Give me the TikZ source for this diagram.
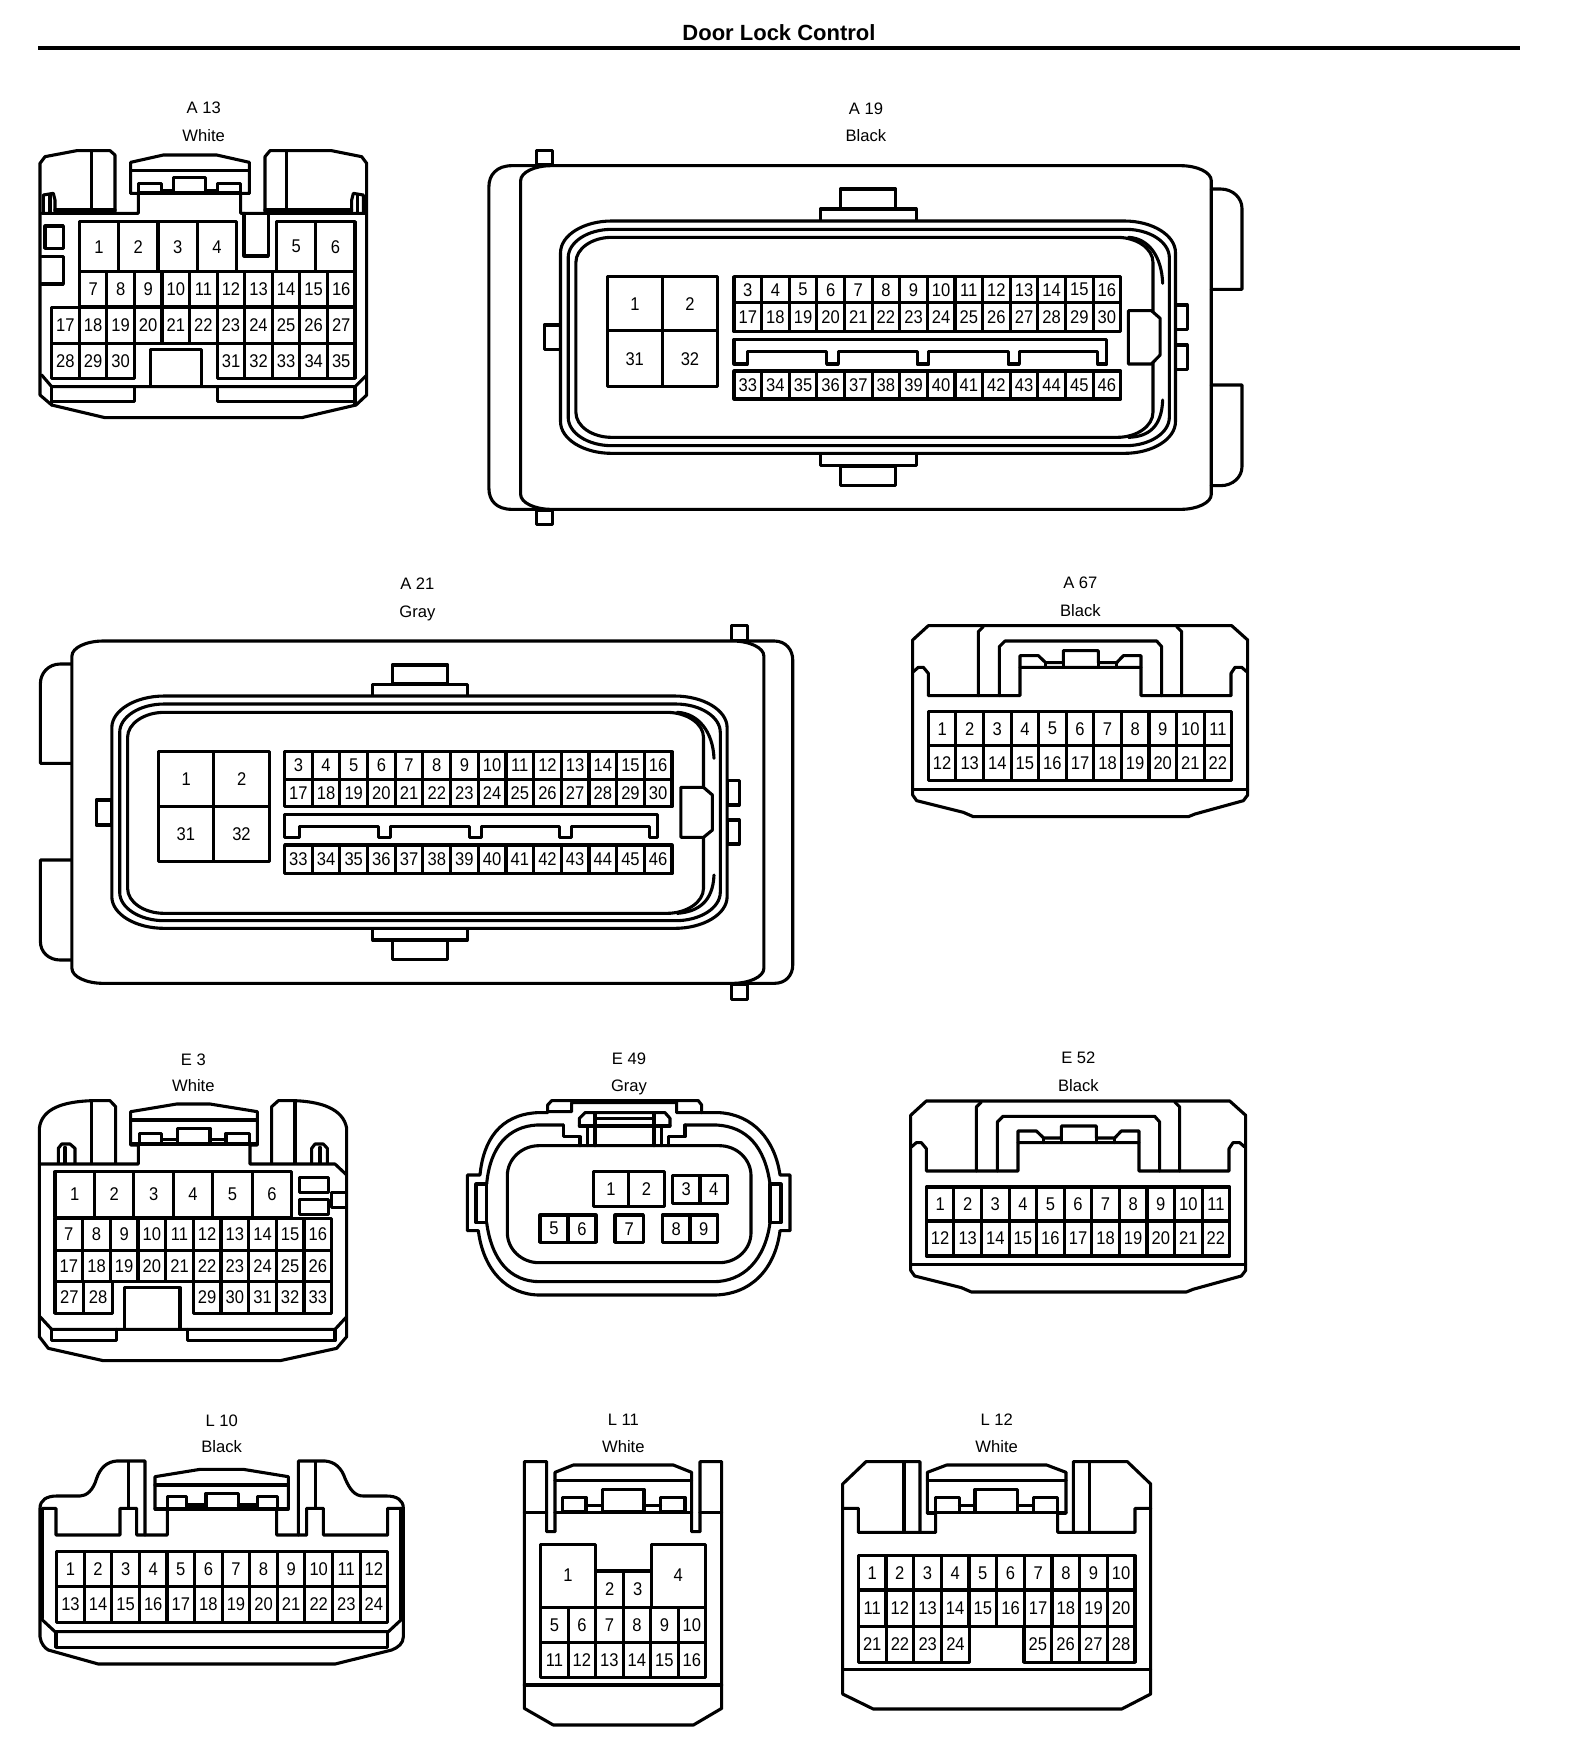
\documentclass[tikz,border=0pt]{standalone}
\usepackage{fontspec}
\setmainfont{Liberation Sans}
\newfontfamily\pinfont[FakeStretch=0.9]{Liberation Sans}
\tikzset{
  line/.style={line width=1.55pt,line join=round,line cap=round},
  pinnum/.style={inner sep=0pt,outer sep=0pt,font=\pinfont\fontsize{9.2pt}{10pt}\selectfont},
  caption/.style={inner sep=0pt,text height=6pt,text depth=0pt,font=\fontsize{8.3pt}{10pt}\selectfont},
}
% \pinrow{prefix}{x0}{x1}{y0}{y1}{first}{last}
\newcommand\pinrow[7]{%
  \pgfmathtruncatemacro\pinN{#7-#6+1}%
  \pgfmathsetmacro\pinW{(#3-#2)/\pinN}%
  \foreach \n in {#6,...,#7}{%
    \pgfmathsetmacro\pinA{#2+(\n-#6)*\pinW}%
    \pgfmathsetmacro\pinB{\pinA+\pinW}%
    \draw[line] (\pinA,#4) rectangle (\pinB,#5);
    \node[pinnum] (#1p\n) at ({(\pinA+\pinB)/2},{(#4+#5)/2}) {\n};
  }%
}
% \rrect[opts]{x0}{y0}{x1}{y1}{rx}{ry}
\newcommand\rrect[7][]{%
  \pgfmathsetmacro\rxa{#2+#6}\pgfmathsetmacro\rxb{#4-#6}%
  \pgfmathsetmacro\rya{#3+#7}\pgfmathsetmacro\ryb{#5-#7}%
  \pgfmathsetmacro\rkx{0.55*#6}\pgfmathsetmacro\rky{0.55*#7}%
  \draw[line,#1] (\rxa,#3) -- (\rxb,#3) .. controls +(\rkx,0) and +(0,-\rky) .. (#4,\rya)
    -- (#4,\ryb) .. controls +(0,\rky) and +(\rkx,0) .. (\rxb,#5)
    -- (\rxa,#5) .. controls +(-\rkx,0) and +(0,\rky) .. (#2,\ryb)
    -- (#2,\rya) .. controls +(0,-\rky) and +(-\rkx,0) .. (\rxa,#3) -- cycle;
}
\newcommand\boxes[1]{\foreach \a/\b/\c/\d in {#1}{\draw[line] (\a,\b) rectangle (\c,\d);}}
\newcommand\segs[1]{\foreach \a/\b/\c/\d in {#1}{\draw[line] (\a,\b) -- (\c,\d);}}
\newcommand\tabconn[5]{%
  \begin{scope}[shift={(#2,#3)},x=0.1666667pt,y=-0.1666667pt]
    \node[caption] (#1cap) at (541,68) {#4};
    \node[caption] (#1col) at (541,152) {#5};
    \draw[line] (38,240) -- (85,197) -- (995,197) -- (1043,240) -- (1043,705) -- (1030,722) -- (885,762) -- (865,770) -- (220,770) -- (190,757) -- (50,722) -- (38,705) -- cycle;
    \draw[line] (40,335) -- (55,322) -- (70,322) -- (85,340) -- (85,407) -- (360,407) -- (360,322) -- (723,322) -- (723,407) -- (993,407) -- (993,340) -- (1005,322) -- (1025,322) -- (1040,335);
    \draw[line] (235,407) -- (235,215) -- (250,200);
    \draw[line] (845,407) -- (845,215) -- (830,200);
    \draw[line] (298,407) -- (298,260) -- (315,243) -- (770,243) -- (785,260) -- (785,407);
    \draw[line] (360,322) -- (360,287) -- (415,287) -- (437,308) -- (490,308) -- (490,272) -- (595,272) -- (595,308) -- (650,308) -- (670,287) -- (723,287) -- (723,322);
    \segs{437/308/437/322,650/308/650/322,490/308/490/322,595/308/595/322}
    \pinrow{#1}{85}{995}{455}{557}{1}{11}
    \pinrow{#1}{85}{995}{557}{662}{12}{22}
    \draw[line] (38,688) -- (1043,688);
  \end{scope}%
}
\begin{document}
\begin{tikzpicture}[x=0.5pt,y=-0.5pt]
\useasboundingbox (0,0) rectangle (1568,1760);
\fill[white] (0,0) rectangle (1568,1760);
\node[inner sep=0pt,font=\bfseries\fontsize{11pt}{13pt}\selectfont] (title) at (779,32.7) {Door Lock Control};
\coordinate (ruleL) at (38,48);
\coordinate (ruleR) at (1520,48);
\draw[line width=2pt] (ruleL) -- (ruleR);

% ---------- A 13
\begin{scope}[x=0.1666667pt,y=-0.1666667pt]
  \node[caption] (a13cap) at (611,323) {A 13};
  \node[caption] (a13col) at (611,405) {White};
  \draw[line] (345,635) -- (345,465) -- (330,452) -- (230,452) -- (135,470) -- (120,490) -- (120,1185) -- (155,1215) -- (315,1253) -- (905,1253) -- (1068,1215) -- (1100,1185) -- (1100,490) -- (1085,470) -- (995,452) -- (810,452) -- (795,470) -- (795,635);
  \segs{275/455/275/630,860/455/860/630,165/630/345/630,795/630/1055/630,392/512/748/512,392/580/748/580,150/585/150/640,1072/585/1072/640}
  \draw[line] (125,640) -- (415,640) -- (415,580) -- (392,580) -- (392,487) -- (490,465) -- (650,465) -- (748,487) -- (748,580) -- (722,580) -- (722,640) -- (1095,640);
  \draw[line] (130,640) -- (130,585) -- (160,580) -- (165,600) -- (165,635);
  \draw[line] (1090,640) -- (1090,585) -- (1060,580) -- (1055,600) -- (1055,635);
  \boxes{415/550/485/578,652/550/722/578,520/532/617/578,135/678/190/745}
  \segs{485/572/520/572,617/572/652/572}
  \draw[line] (732,640) -- (732,768) -- (805,768) -- (805,640);
  \draw[line] (125,770) -- (190,770) -- (190,852) -- (125,852);
  \pinrow{a13}{238}{710}{665}{815}{1}{4}
  \pinrow{a13}{830}{1065}{665}{815}{5}{6}
  \pinrow{a13}{238}{1065}{815}{920}{7}{16}
  \pinrow{a13}{155}{1065}{922}{1030}{17}{27}
  \pinrow{a13}{155}{403}{1030}{1135}{28}{30}
  \pinrow{a13}{652}{1065}{1030}{1135}{31}{35}
  \draw[line] (452,1155) -- (452,1048) -- (605,1048) -- (605,1155);
  \draw[line] (125,1125) -- (155,1160) -- (1065,1160) -- (1100,1125);
  \segs{155/1160/155/1215,1065/1160/1065/1215}
  \draw[line] (155,1205) -- (403,1205) -- (403,1160);
  \draw[line] (652,1160) -- (652,1205) -- (1065,1205);
\end{scope}

% ---------- A 19
\begin{scope}[shift={(471,80)},x=0.2558pt,y=-0.1666667pt]
  \node[caption] (a19cap) at (772,85) {A 19};
  \node[caption] (a19col) at (772,167) {Black};
  \rrect{97}{257}{1447}{1288}{60}{45}
  \draw[line] (130,257) -- (80,257) .. controls (50,257) and (35,285) .. (35,320) -- (35,1225) .. controls (35,1262) and (50,1288) .. (80,1288) -- (130,1288);
  \boxes{128/212/160/255,128/1290/160/1333,722/327/830/385,722/1160/830/1217,143/735/175/808,1377/675/1400/748,1377/795/1400/868}
  \draw[line] (1447,327) -- (1465,327) .. controls (1490,327) and (1507,355) .. (1507,385) -- (1507,628) -- (1447,628);
  \draw[line] (1447,915) -- (1507,915) -- (1507,1160) .. controls (1507,1190) and (1490,1217) .. (1465,1217) -- (1447,1217);
  \draw[line] (683,420) -- (683,387) -- (870,387) -- (870,420);
  \draw[line] (683,1125) -- (683,1157) -- (870,1157) -- (870,1125);
  \rrect{175}{423}{1377}{1120}{100}{95}
  \rrect{190}{448}{1365}{1097}{85}{85}
  \rrect{205}{472}{1333}{1072}{70}{75}
  \draw[line] (1285,472) .. controls (1325,475) and (1350,530) .. (1352,610);
  \draw[line] (1285,1072) .. controls (1325,1070) and (1350,1040) .. (1352,960);
  \draw[line,fill=white] (1285,692) -- (1330,692) -- (1347,715) -- (1347,825) -- (1330,852) -- (1285,852) -- cycle;
  \pinrow{a19}{267}{482}{590}{752}{1}{2}
  \pinrow{a19}{514}{1270}{590}{668}{3}{16}
  \pinrow{a19}{514}{1270}{668}{755}{17}{30}
  \draw[line] (514,852) -- (514,778) -- (1243,778) -- (1243,852) -- (1225,852) -- (1225,815) -- (1072,815) -- (1072,852) -- (1050,852) -- (1050,815) -- (895,815) -- (895,852) -- (872,852) -- (872,815) -- (718,815) -- (718,852) -- (695,852) -- (695,815) -- (540,815) -- (540,852) -- cycle;
  \draw[line] (267,752) rectangle (374,920);
  \draw[line] (374,752) rectangle (482,920);
  \node[pinnum] (a19p31) at (320,836) {31};
  \node[pinnum] (a19p32) at (428,836) {32};
  \pinrow{a19}{514}{1270}{873}{957}{33}{46}
\end{scope}

% ---------- A 21
\begin{scope}[shift={(0,560)},x=0.2625pt,y=-0.1666667pt]
  \node[caption] (a21cap) at (795,70) {A 21};
  \node[caption] (a21col) at (795,153) {Gray};
  \rrect{137}{243}{1455}{1270}{60}{45}
  \draw[line] (1420,243) -- (1475,243) .. controls (1497,243) and (1510,270) .. (1510,300) -- (1510,1215) .. controls (1510,1245) and (1497,1270) .. (1475,1270) -- (1420,1270);
  \boxes{1393/197/1424/241,1393/1272/1424/1318,747/315/853/372,747/1142/853/1198,183/720/213/795,1385/662/1408/735,1385/780/1408/852}
  \draw[line] (135,312) -- (115,312) .. controls (92,312) and (77,340) .. (77,370) -- (77,610) -- (135,610);
  \draw[line] (135,900) -- (77,900) -- (77,1145) .. controls (77,1175) and (92,1200) .. (115,1200) -- (135,1200);
  \draw[line] (710,405) -- (710,373) -- (890,373) -- (890,405);
  \draw[line] (710,1108) -- (710,1140) -- (890,1140) -- (890,1108);
  \rrect{213}{408}{1385}{1105}{100}{95}
  \rrect{228}{432}{1372}{1082}{85}{85}
  \rrect{243}{457}{1340}{1060}{70}{75}
  \draw[line] (1290,457) .. controls (1330,460) and (1358,515) .. (1360,595);
  \draw[line] (1290,1060) .. controls (1330,1055) and (1358,1025) .. (1360,945);
  \draw[line,fill=white] (1297,682) -- (1340,682) -- (1357,705) -- (1357,810) -- (1340,832) -- (1297,832) -- cycle;
  \pinrow{a21}{302}{513}{575}{740}{1}{2}
  \pinrow{a21}{542}{1280}{575}{658}{3}{16}
  \pinrow{a21}{542}{1280}{658}{740}{17}{30}
  \draw[line] (542,832) -- (542,763) -- (1253,763) -- (1253,832) -- (1237,832) -- (1237,800) -- (1088,800) -- (1088,832) -- (1066,832) -- (1066,800) -- (917,800) -- (917,832) -- (895,832) -- (895,800) -- (743,800) -- (743,832) -- (721,832) -- (721,800) -- (570,800) -- (570,832) -- cycle;
  \draw[line] (302,740) rectangle (407,905);
  \draw[line] (407,740) rectangle (513,905);
  \node[pinnum] (a21p31) at (354,822) {31};
  \node[pinnum] (a21p32) at (460,822) {32};
  \pinrow{a21}{542}{1280}{855}{941}{33}{46}
\end{scope}

% ---------- A 67 and E 52
\tabconn{a67}{900}{560}{A 67}{Black}
\tabconn{e52}{898}{1035.3}{E 52}{Black}

% ---------- E 3
\begin{scope}[shift={(20,1040)},x=0.1666667pt,y=-0.1666667pt]
  \node[caption] (e3cap) at (520,57) {E 3};
  \node[caption] (e3col) at (520,137) {White};
  \draw[line] (287,370) -- (287,200) -- (270,182) -- (215,182) .. controls (130,185) and (65,205) .. (58,265) -- (58,890) -- (85,925) -- (250,962) -- (780,962) -- (950,925) -- (980,890) -- (980,265) .. controls (970,205) and (900,185) .. (825,182) -- (775,182) -- (755,200) -- (755,370);
  \draw[line] (58,372) -- (355,372) -- (355,315) -- (332,315) -- (332,215) -- (470,192) -- (570,192) -- (712,215) -- (712,315) -- (690,315) -- (690,372) -- (945,372) -- (980,405);
  \segs{215/185/215/370,825/185/825/370,332/240/712/240,332/312/712/312,425/298/472/298,570/298/618/298,135/322/135/370,900/322/900/370}
  \boxes{358/280/425/312,618/280/688/312,472/265/570/312,838/412/925/458,838/478/925/523,935/457/980/503}
  \draw[line] (115,370) -- (115,325) -- (125,312) -- (150,312) -- (165,325) -- (165,370);
  \draw[line] (875,370) -- (875,325) -- (885,312) -- (910,312) -- (922,325) -- (922,370);
  \pinrow{e3}{105}{815}{395}{532}{1}{6}
  \pinrow{e3}{105}{935}{535}{632}{7}{16}
  \pinrow{e3}{105}{935}{632}{725}{17}{26}
  \pinrow{e3}{105}{277}{725}{820}{27}{28}
  \pinrow{e3}{520}{935}{725}{820}{29}{33}
  \draw[line] (313,868) -- (313,743) -- (480,743) -- (480,868);
  \draw[line] (60,830) -- (95,868) -- (945,868) -- (980,830);
  \draw[line] (95,868) -- (95,902) -- (290,902) -- (290,868);
  \draw[line] (502,868) -- (502,902) -- (945,902) -- (945,868);
\end{scope}

% ---------- E 49
\begin{scope}[shift={(450,1040)},x=0.1666667pt,y=-0.1666667pt]
  \node[caption] (e49cap) at (537,55) {E 49};
  \node[caption] (e49col) at (537,137) {Gray};
  \draw[line] (293,215) -- (293,195) -- (305,182) -- (745,182) -- (755,195) -- (755,218) -- (680,218) -- (680,188) -- (365,188) -- (365,215) -- cycle;
  \draw[line] (293,218) -- (260,218) .. controls (150,225) and (100,300) .. (90,405) -- (52,405) -- (52,572) -- (85,572) .. controls (100,690) and (170,765) .. (270,765) -- (790,765) .. controls (900,765) and (975,690) .. (990,572) -- (1020,572) -- (1020,405) -- (990,405) .. controls (975,300) and (910,225) .. (810,218) -- (755,218);
  \draw[line] (340,255) -- (260,255) .. controls (175,260) and (120,320) .. (110,432);
  \draw[line] (110,548) .. controls (125,660) and (180,725) .. (270,725) -- (790,725) .. controls (880,725) and (945,660) .. (960,548);
  \draw[line] (960,432) .. controls (945,320) and (890,260) .. (800,255) -- (705,255);
  \boxes{78/432/110/548,960/432/993/548}
  \rrect{172}{317}{903}{668}{95}{90}
  \draw[line] (340,255) -- (340,290) -- (390,290) -- (390,317);
  \draw[line] (705,255) -- (705,290) -- (655,290) -- (655,317);
  \draw[line] (388,258) -- (388,235) -- (405,218) -- (645,218) -- (660,235) -- (660,258);
  \segs{435/235/612/235,388/258/660/258,412/260/412/317,435/220/435/317,612/220/612/317,635/260/635/317}
  \pinrow{e49}{430}{643}{395}{500}{1}{2}
  \pinrow{e49}{667}{833}{407}{490}{3}{4}
  \pinrow{e49}{270}{438}{525}{607}{5}{6}
  \pinrow{e49}{495}{580}{525}{607}{7}{7}
  \pinrow{e49}{637}{803}{525}{607}{8}{9}
\end{scope}

% ---------- L 10
\begin{scope}[shift={(20,1410)},x=0.1666667pt,y=-0.1666667pt]
  \node[caption] (l10cap) at (605,30) {L 10};
  \node[caption] (l10col) at (605,110) {Black};
  \draw[line] (375,375) -- (375,153) -- (290,153) .. controls (260,155) and (240,175) .. (230,205) .. controls (220,240) and (200,258) .. (180,258) -- (110,258) .. controls (80,258) and (60,270) .. (60,295) -- (60,680) .. controls (62,700) and (75,715) .. (85,720) -- (235,762) -- (945,762) -- (1115,720) .. controls (1135,712) and (1150,700) .. (1150,680) -- (1150,295) .. controls (1150,270) and (1130,258) .. (1100,258) -- (1030,258) .. controls (1005,258) and (990,240) .. (975,205) .. controls (965,175) and (945,155) .. (915,153) -- (835,153) -- (835,375);
  \draw[line] (68,295) -- (108,295) -- (108,375) -- (300,375) -- (300,295) -- (350,295) -- (350,375) -- (442,375) -- (442,297) -- (405,297) -- (405,200) -- (540,178) -- (670,178) -- (805,200) -- (805,297) -- (770,297) -- (770,375) -- (860,375) -- (860,295) -- (910,295) -- (910,375) -- (1103,375) -- (1103,295) -- (1143,295);
  \segs{325/155/325/295,887/155/887/295,68/295/68/625,1143/295/1143/625,405/225/805/225,405/297/805/297,500/285/558/285,655/285/712/285}
  \boxes{442/260/500/295,712/260/772/295,558/250/655/295}
  \pinrow{l10}{110}{1103}{425}{530}{1}{12}
  \pinrow{l10}{110}{1103}{530}{637}{13}{24}
  \draw[line] (62,625) -- (105,665) -- (1105,665) -- (1148,625);
  \draw[line] (108,665) -- (108,712) -- (1103,712) -- (1103,665);
\end{scope}

% ---------- L 11
\begin{scope}[shift={(510,1410)},x=0.1666667pt,y=-0.1666667pt]
  \node[caption] (l11cap) at (340,28) {L 11};
  \node[caption] (l11col) at (340,110) {White};
  \draw[line] (43,155) -- (110,155) -- (110,365) -- (135,365) -- (135,187) -- (190,165) -- (490,165) -- (545,187) -- (545,365) -- (570,365) -- (570,155) -- (635,155) -- (635,895) -- (550,945) -- (130,945) -- (43,895) -- cycle;
  \segs{43/307/110/307,135/307/545/307,570/307/635/307,135/212/545/212,228/287/277/287,402/287/452/287,43/825/635/825}
  \boxes{157/262/228/305,452/262/525/305,277/238/402/305}
  \draw[line] (92,403) rectangle (257,592);
  \node[pinnum] (l11p1) at (174,495) {1};
  \draw[line] (425,403) rectangle (587,592);
  \node[pinnum] (l11p4) at (505,495) {4};
  \pinrow{l11}{257}{425}{483}{592}{2}{3}
  \pinrow{l11}{92}{587}{592}{697}{5}{10}
  \pinrow{l11}{92}{587}{697}{802}{11}{16}
\end{scope}

% ---------- L 12
\begin{scope}[shift={(830,1410)},x=0.1666667pt,y=-0.1666667pt]
  \node[caption] (l12cap) at (500,28) {L 12};
  \node[caption] (l12col) at (500,110) {White};
  \draw[line] (270,367) -- (270,155) -- (108,155) -- (38,222) -- (38,852) -- (130,897) -- (875,897) -- (962,852) -- (962,222) -- (892,155) -- (730,155) -- (730,367);
  \draw[line] (38,295) -- (85,295) -- (85,367) -- (317,367) -- (317,310) -- (292,310) -- (292,187) -- (350,165) -- (650,165) -- (708,187) -- (708,310) -- (683,310) -- (683,367) -- (915,367) -- (915,295) -- (962,295);
  \segs{222/155/222/367,778/155/778/367,292/212/708/212,292/308/708/308,388/287/435/287,563/287/610/287,38/778/962/778}
  \boxes{317/262/388/308,610/262/683/308,435/238/563/308}
  \pinrow{l12}{85}{915}{437}{540}{1}{10}
  \pinrow{l12}{85}{915}{540}{650}{11}{20}
  \pinrow{l12}{85}{418}{650}{757}{21}{24}
  \pinrow{l12}{582}{915}{650}{757}{25}{28}
\end{scope}
\end{tikzpicture}
\end{document}
